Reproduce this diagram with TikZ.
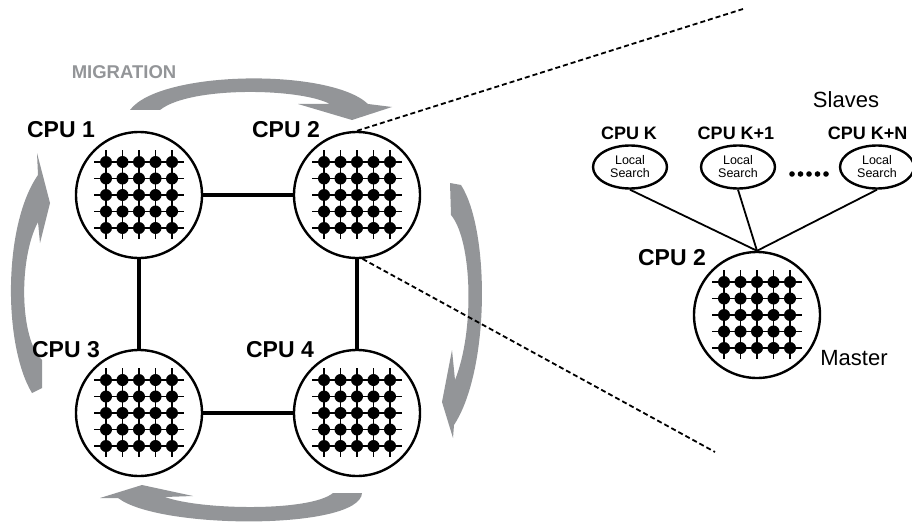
\documentclass[tikz,border=0pt]{standalone}
\usepackage{fontspec}
\setmainfont{Liberation Sans}
\usetikzlibrary{calc,shapes.geometric}

\definecolor{migrgray}{RGB}{147,149,152}

\tikzset{
  cpu/.style={circle,draw,line width=2.4pt,minimum size=126pt,inner sep=0pt},
  gridline/.style={line width=1.3pt},
  link/.style={line width=3.2pt},
  zoomline/.style={line width=1.8pt,dash pattern=on 5pt off 3pt},
  cpulabel/.style={font=\fontsize{23}{25}\selectfont\bfseries},
  slavelabel/.style={font=\fontsize{18}{20}\selectfont\bfseries},
  search/.style={ellipse,draw,line width=2.4pt,minimum width=74pt,minimum height=43pt,
    inner sep=0pt,align=center,font=\fontsize{12.5}{13}\selectfont},
  role/.style={font=\fontsize{22}{24}\selectfont},
  migrtext/.style={font=\fontsize{18.5}{20}\selectfont\bfseries,text=migrgray},
  migr/.style={fill=migrgray},
}

% 5x5 mesh of processors inside a cpu node
\newcommand\meshgrid[1]{%
  \foreach \k in {-2,...,2} {
    \draw[gridline] ($(#1)+(-45,\k*16.5)$) -- ++(90,0);
    \draw[gridline] ($(#1)+(\k*16.5,-45)$) -- ++(0,89);
  }
  \foreach \i in {-2,...,2}
    \foreach \j in {-2,...,2}
      \fill ($(#1)+(\i*16.5,\j*16.5)$) circle (6pt);
}

\begin{document}
\begin{tikzpicture}[x=1pt,y=-1pt]
\useasboundingbox (0,0) rectangle (912,524);

% migration arrows
\fill[migr] (130,110) .. controls (160,70) and (330,68) .. (368,104) -- (392,107) -- (352,120)
  -- (298,104) -- (330,104) .. controls (300,88) and (190,86) .. (160,110) -- cycle;
\fill[migr] (450,183) -- (461,185) .. controls (490,230) and (490,370) .. (454,425) -- (453,438)
  -- (442,402) -- (452,350) -- (455,380) .. controls (475,330) and (472,240) .. (451,215) -- cycle;
\fill[migr] (333,493) -- (362,493) .. controls (360,530) and (160,530) .. (118,498) -- (100,498)
  -- (142,485) -- (193,496) -- (165,497) .. controls (200,510) and (310,512) .. (333,493) -- cycle;
\fill[migr] (42,388) -- (32,393) .. controls (3,345) and (3,225) .. (38,175) -- (37,153)
  -- (50,203) -- (40,243) -- (38,222) .. controls (18,260) and (20,340) .. (42,360) -- cycle;
\node[migrtext] (migration) at (124,72) {MIGRATION};

% island model
\node[cpu] (cpu1) at (139,195) {};
\node[cpu] (cpu2) at (357,195) {};
\node[cpu] (cpu3) at (139,413) {};
\node[cpu] (cpu4) at (357,413) {};
\draw[link] (cpu1) -- (cpu2);
\draw[link] (cpu1) -- (cpu3);
\draw[link] (cpu2) -- (cpu4);
\draw[link] (cpu3) -- (cpu4);
\meshgrid{cpu1}
\meshgrid{cpu2}
\meshgrid{cpu3}
\meshgrid{cpu4}
\node[cpulabel] (l1) at (61,130) {CPU 1};
\node[cpulabel] (l2) at (286,130) {CPU 2};
\node[cpulabel] (l3) at (66,350) {CPU 3};
\node[cpulabel] (l4) at (280,350) {CPU 4};

% zoom on CPU 2
\coordinate (ztop) at (743,9);
\coordinate (zbot) at (715,452);
\draw[zoomline] (cpu2.north) -- (ztop);
\draw[zoomline] (cpu2.-85) -- (zbot);

% master and slaves
\node[cpu] (master) at (757,315) {};
\meshgrid{master}
\node[cpulabel] (lm) at (672,258) {CPU 2};
\node[role] (mst) at (854,358) {Master};
\node[search] (sl1) at (630,167) {Local\\Search};
\node[search] (sl2) at (738,167) {Local\\Search};
\node[search] (sl3) at (877,167) {Local\\Search};
\node[slavelabel] (tk) at (629,133) {CPU K};
\node[slavelabel] (tk1) at (736,133) {CPU K+1};
\node[slavelabel,anchor=east] (tkn) at (911,133) {CPU K+N};
\node[role] (slaves) at (846,100) {Slaves};
\foreach \d in {0,...,4}
  \fill (792+\d*8.5,174) circle (2.8pt);
\draw[line width=1.8pt] (sl1.south) -- (master.north);
\draw[line width=1.8pt] (sl2.south) -- (master.north);
\draw[line width=1.8pt] (sl3.south) -- (master.north);
\end{tikzpicture}
\end{document}
